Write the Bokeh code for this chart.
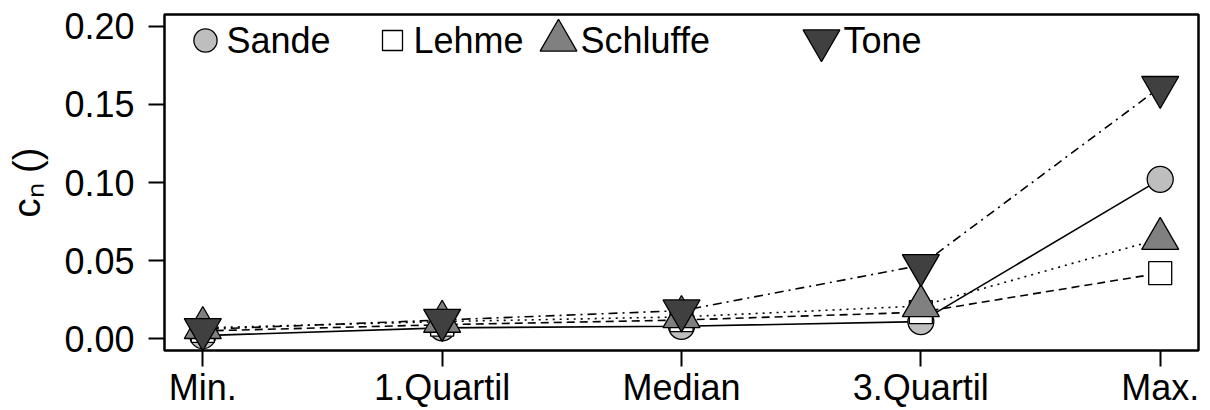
from bokeh.plotting import figure
from bokeh.models import (Range1d, FixedTicker, Legend, LegendItem, Label)
from bokeh.embed import file_html
from bokeh.resources import INLINE

categories = ["Min.", "1.Quartil", "Median", "3.Quartil", "Max."]
x_pos = [1, 2, 3, 4, 5]
sande = [0.002, 0.007, 0.008, 0.011, 0.102]
lehme = [0.005, 0.009, 0.012, 0.017, 0.042]
schluffe = [0.007, 0.011, 0.014, 0.021, 0.064]
tone = [0.006, 0.012, 0.018, 0.047, 0.161]
y_ticks = [0.00, 0.05, 0.10, 0.15, 0.20]
y_tick_labels = ["0.00", "0.05", "0.10", "0.15", "0.20"]
legend_names = ["Sande", "Lehme", "Schluffe", "Tone"]
y_title = "c\u2099 ()"

FONT = "Liberation Sans"
FL, FR, FT, FB = 164, 1198, 14, 353   # frame edges in page pixels
W, H = 1210, 410

p = figure(width=W, height=H, output_backend="svg", toolbar_location=None,
           x_range=Range1d(0.84, 5.16), y_range=Range1d(-0.0075, 0.2075),
           min_border_left=FL, min_border_right=W - FR, min_border_top=FT,
           min_border_bottom=H - FB)
p.grid.visible = False
p.outline_line_color = "black"
p.outline_line_width = 2.5
p.background_fill_color = "white"
p.border_fill_color = "white"

for ax in (p.xaxis, p.yaxis):
    ax.axis_line_color = None
    ax.major_tick_out = 16
    ax.major_tick_in = 0
    ax.minor_tick_line_color = None
    ax.major_tick_line_width = 2
    ax.major_tick_line_color = "black"
    ax.major_label_text_font = FONT
    ax.major_label_text_font_size = "36px"
    ax.major_label_text_color = "black"

p.xaxis.ticker = FixedTicker(ticks=x_pos)
p.xaxis.major_label_overrides = {x: c for x, c in zip(x_pos, categories)}
p.xaxis.major_label_standoff = 0
p.yaxis.ticker = FixedTicker(ticks=y_ticks)
p.yaxis.major_label_overrides = {v: t for v, t in zip(y_ticks, y_tick_labels)}
p.yaxis.major_label_standoff = 14
p.yaxis.axis_label = y_title
p.yaxis.axis_label_text_font = FONT
p.yaxis.axis_label_text_font_size = "38px"
p.yaxis.axis_label_text_font_style = "normal"
p.yaxis.axis_label_text_color = "black"
p.yaxis.axis_label_standoff = 13

styles = [
    ("circle", 26, "#bebebe", "solid"),
    ("square", 23, "white", "8 5"),
    ("triangle", 37, "#808080", "2 5"),
    ("inverted_triangle", 37, "#404040", "2 5 9 5"),
]
values = [sande, lehme, schluffe, tone]

marker_renderers = []
for vals, (marker, size, fill, dash) in zip(values, styles):
    p.line(x_pos, vals, line_color="black", line_width=1.6, line_dash=dash)
    r = p.scatter(x_pos, vals, marker=marker, size=size, fill_color=fill,
                  line_color="black", line_width=1.3)
    marker_renderers.append(r)

# legend: glyph boxes (one legend per entry so each symbol keeps its size)
cy = 43
glyph_cx = [205, 392, 558, 821]
glyph_box = [58, 50, 92, 92]
text_x = [226, 413, 580, 843]
for name, r, cx, g, tx in zip(legend_names, marker_renderers, glyph_cx, glyph_box, text_x):
    lg = Legend(items=[LegendItem(label="", renderers=[r])],
                location=(cx - g / 2 - FL, FB - cy - g / 2),
                glyph_width=g, glyph_height=g, label_height=g, label_width=0,
                label_standoff=0, padding=0, margin=0, spacing=0,
                border_line_color=None, background_fill_alpha=0)
    p.add_layout(lg, "center")
    p.add_layout(Label(x=tx - FL, y=FB - cy, x_units="screen", y_units="screen",
                       text=name, text_font=FONT, text_font_size="36px",
                       text_baseline="middle", text_align="left",
                       text_color="black"))

open("out.html", "w").write(file_html(p, INLINE))
